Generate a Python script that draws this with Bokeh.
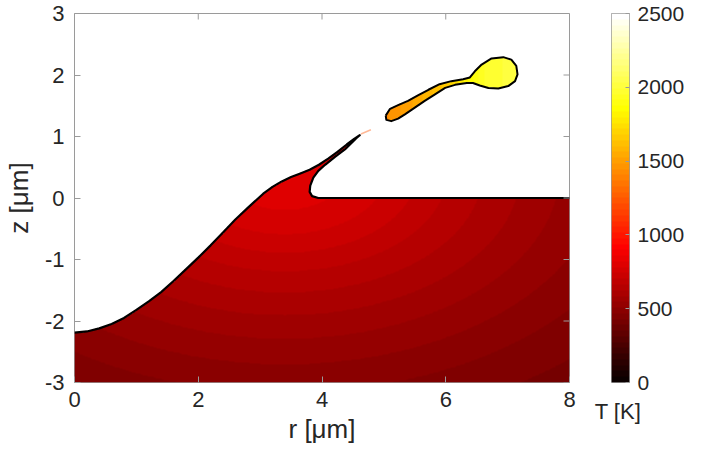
import numpy as np
from bokeh.plotting import figure
from bokeh.layouts import row
from bokeh.models import LinearColorMapper, FixedTicker, Range1d
from bokeh.embed import file_html
from bokeh.resources import INLINE

# ---------------- data ----------------
r_ticks = [0, 2, 4, 6, 8]
z_ticks = [-3, -2, -1, 0, 1, 2, 3]
T_ticks = [0, 500, 1000, 1500, 2000, 2500]
T_low, T_high = 0, 2500

# substrate free surface: from the axis up to the spike tip
surf_up_r = [0.00, 0.20, 0.40, 0.60, 0.80, 1.00, 1.20, 1.40, 1.60, 1.80, 2.00, 2.20, 2.40,
             2.60, 2.80, 2.91, 3.05, 3.20, 3.35, 3.50, 3.65, 3.80, 3.95, 4.10, 4.25, 4.40,
             4.52, 4.61]
surf_up_z = [-2.19, -2.17, -2.12, -2.05, -1.95, -1.82, -1.68, -1.53, -1.35, -1.16, -0.97,
             -0.77, -0.56, -0.35, -0.16, -0.06, 0.07, 0.18, 0.27, 0.34, 0.40, 0.46, 0.54,
             0.64, 0.75, 0.87, 0.96, 1.02]
# spike underside (tip -> crater rim) and flat surface
surf_dn_r = [4.55, 4.37, 4.21, 4.05, 3.94, 3.86, 3.81, 3.80, 3.84, 3.94, 8.00]
surf_dn_z = [0.97, 0.79, 0.67, 0.54, 0.44, 0.33, 0.20, 0.10, 0.03, 0.00, 0.00]
# bottom corners of the domain
base_r = [8.00, 0.00]
base_z = [-3.00, -3.00]

# ejected droplet outline
drop_r = [5.03, 5.10, 5.23, 5.39, 5.55, 5.72, 5.90, 6.09, 6.28, 6.39, 6.47, 6.58, 6.74, 6.93,
          7.06, 7.14, 7.16, 7.12, 7.01, 6.85, 6.69, 6.55, 6.44, 6.34, 6.15, 5.99, 5.82, 5.66,
          5.50, 5.34, 5.23, 5.12, 5.04]
drop_z = [1.34, 1.45, 1.51, 1.58, 1.67, 1.76, 1.85, 1.90, 1.93, 1.96, 2.06, 2.17, 2.27, 2.29,
          2.25, 2.15, 2.01, 1.90, 1.82, 1.78, 1.79, 1.83, 1.87, 1.87, 1.84, 1.79, 1.68, 1.58,
          1.47, 1.36, 1.29, 1.25, 1.27]

# thin liquid thread between spike tip and droplet
thread_r = [4.63, 4.79]
thread_z = [1.04, 1.11]

# temperature in the substrate vs (scaled) distance from the hot spot near the neck
hot_r0, hot_z0 = 3.4, 0.4
hot_scale_r, hot_scale_z = 1.4, 0.85
sub_dist = [0.0, 1.0, 2.0, 3.0, 4.0, 5.0, 6.0]
sub_T = [830, 760, 650, 560, 480, 420, 390]

# temperature along the droplet
drop_Tr = [5.0, 5.5, 6.0, 6.3, 6.6, 7.2]
drop_T = [1430, 1530, 1660, 1800, 1950, 2030]


# ---------------- helpers ----------------
def hot_palette(m=64):
    n = int(3 * m / 8)
    cols = []
    for i in range(m):
        r = min(1.0, (i + 1) / n)
        g = min(1.0, max(0.0, (i + 1 - n) / n))
        b = max(0.0, (i + 1 - 2 * n) / (m - 2 * n))
        cols.append("#%02x%02x%02x" % (round(255 * r), round(255 * g), round(255 * b)))
    return cols


def inside(px, py, xs, ys):
    xs = np.asarray(xs, float)
    ys = np.asarray(ys, float)
    c = np.zeros(px.shape, bool)
    n = len(xs)
    j = n - 1
    for i in range(n):
        xi, yi, xj, yj = xs[i], ys[i], xs[j], ys[j]
        if yi != yj:
            cond = ((yi > py) != (yj > py)) & (px < (xj - xi) * (py - yi) / (yj - yi) + xi)
            c ^= cond
        j = i
    return c


# ---------------- field image ----------------
nx, ny = 800, 600
x0, x1, y0, y1 = 0.0, 8.0, -3.0, 3.0
gx = x0 + (np.arange(nx) + 0.5) * (x1 - x0) / nx
gy = y0 + (np.arange(ny) + 0.5) * (y1 - y0) / ny
PX, PY = np.meshgrid(gx, gy)

body_r = surf_up_r + surf_dn_r + base_r
body_z = surf_up_z + surf_dn_z + base_z
in_body = inside(PX, PY, body_r, body_z)
in_drop = inside(PX, PY, drop_r, drop_z)

dist = np.sqrt(((PX - hot_r0) / hot_scale_r) ** 2 + ((PY - hot_z0) / hot_scale_z) ** 2)
T = np.full(PX.shape, np.nan)
T[in_body] = np.interp(dist[in_body], sub_dist, sub_T)
T[in_drop] = np.interp(PX[in_drop], drop_Tr, drop_T)

mapper = LinearColorMapper(palette=hot_palette(64), low=T_low, high=T_high,
                           nan_color="rgba(0,0,0,0)")

# ---------------- main figure ----------------
FONT = "Liberation Sans"
TXT = "#262626"
GRID = "#9a9a9a"
TICK_FS = "22px"
LABEL_FS = "26px"
TOP = 13
FH = 369

p = figure(frame_width=495, frame_height=FH, output_backend="svg", toolbar_location=None,
           x_range=Range1d(0, 8), y_range=Range1d(-3, 3),
           min_border_left=73, min_border_top=TOP, min_border_bottom=68,
           min_border_right=22)
p.grid.visible = False
p.outline_line_color = GRID
p.outline_line_width = 1
p.background_fill_color = "white"
p.border_fill_color = "white"

p.image(image=[T], x=x0, y=y0, dw=x1 - x0, dh=y1 - y0, color_mapper=mapper)

surf_r = surf_up_r + surf_dn_r
surf_z = surf_up_z + surf_dn_z
p.line(thread_r, thread_z, line_color="#ff9a6a", line_alpha=0.7, line_width=1.5)
p.line(surf_r, surf_z, line_color="black", line_width=2.2, line_join="round")
p.line(drop_r + drop_r[:1], drop_z + drop_z[:1], line_color="black", line_width=2.0,
       line_join="round")

# tick marks on the right and top sides of the box (inward)
tick_len_r = 6 / (495 / 8)
tick_len_z = 6 / (FH / 6)
p.segment(x0=[8] * len(z_ticks), y0=z_ticks, x1=[8 - tick_len_r] * len(z_ticks), y1=z_ticks,
          line_color=GRID, line_width=1)
p.segment(x0=r_ticks, y0=[3] * len(r_ticks), x1=r_ticks, y1=[3 - tick_len_z] * len(r_ticks),
          line_color=GRID, line_width=1)

for ax, ticks in ((p.xaxis[0], r_ticks), (p.yaxis[0], z_ticks)):
    ax.ticker = FixedTicker(ticks=ticks)
    ax.major_label_overrides = {t: str(t) for t in ticks}
    ax.minor_tick_line_color = None
    ax.major_tick_in = 6
    ax.major_tick_out = 0
    ax.major_tick_line_color = GRID
    ax.axis_line_color = None
    ax.major_label_text_font = FONT
    ax.major_label_text_font_size = TICK_FS
    ax.major_label_text_color = TXT
    ax.axis_label_text_font = FONT
    ax.axis_label_text_font_size = LABEL_FS
    ax.axis_label_text_color = TXT
    ax.axis_label_text_font_style = "normal"

p.xaxis[0].axis_label = "r [μm]"
p.yaxis[0].axis_label = "z [μm]"
p.xaxis[0].major_label_standoff = 9
p.yaxis[0].major_label_standoff = 10
p.xaxis[0].axis_label_standoff = 4
p.yaxis[0].axis_label_standoff = 8

# ---------------- colour bar figure ----------------
cb_levels = np.linspace(T_low, T_high, 512).reshape(-1, 1)
c = figure(frame_width=18, frame_height=FH, output_backend="svg", toolbar_location=None,
           x_range=Range1d(0, 1), y_range=Range1d(T_low, T_high), y_axis_location="right",
           min_border_left=20, min_border_top=TOP, min_border_bottom=68, min_border_right=65)
c.grid.visible = False
c.outline_line_color = GRID
c.background_fill_color = "white"
c.border_fill_color = "white"
c.image(image=[cb_levels], x=0, y=T_low, dw=1, dh=T_high - T_low, color_mapper=mapper)

ya = c.yaxis[0]
ya.ticker = FixedTicker(ticks=T_ticks)
ya.minor_tick_line_color = None
ya.major_tick_in = 4
ya.major_tick_out = 0
ya.major_tick_line_color = GRID
ya.axis_line_color = None
ya.major_label_standoff = 8
ya.major_label_text_font = FONT
ya.major_label_text_font_size = "21px"
ya.major_label_text_color = TXT

xa = c.xaxis[0]
xa.ticker = FixedTicker(ticks=[0])
xa.major_label_overrides = {0: "T [K]"}
xa.major_tick_line_color = None
xa.minor_tick_line_color = None
xa.axis_line_color = None
xa.major_label_standoff = 10
xa.major_label_text_font = FONT
xa.major_label_text_font_size = "22px"
xa.major_label_text_color = TXT

layout = row(p, c)
open("out.html", "w").write(file_html(layout, INLINE))
